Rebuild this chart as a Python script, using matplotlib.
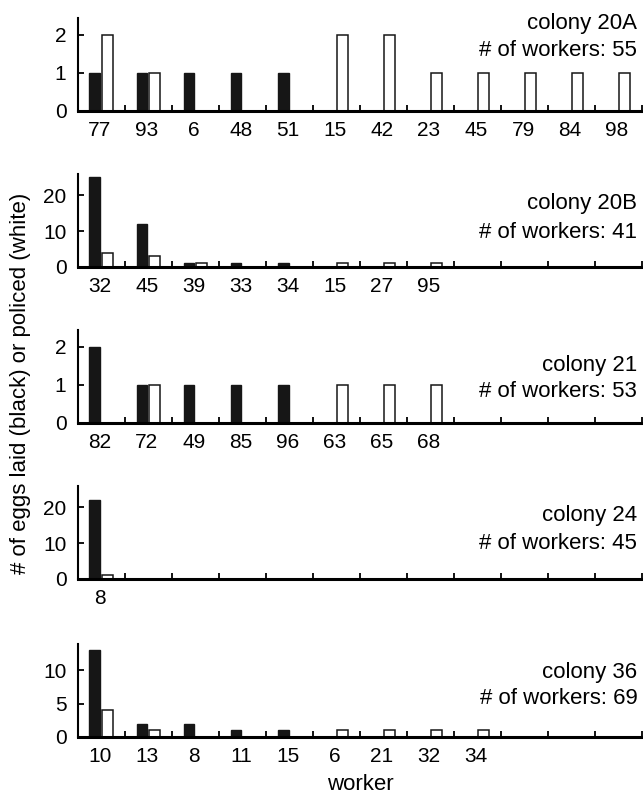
import matplotlib
matplotlib.use('Agg')
import matplotlib.pyplot as plt
import numpy as np

matplotlib.rcParams.update({'font.family': 'sans-serif',
                            'font.sans-serif': ['Liberation Sans', 'DejaVu Sans'],
                            'font.size': 15})

# per colony: worker ids, eggs laid (black), eggs policed (white)
colonies = ['20A', '20B', '21', '24', '36']
n_workers = [55, 41, 53, 45, 69]

workers_20A = ['77', '93', '6', '48', '51', '15', '42', '23', '45', '79', '84', '98']
laid_20A = [1, 1, 1, 1, 1, 0, 0, 0, 0, 0, 0, 0]
policed_20A = [2, 1, 0, 0, 0, 2, 2, 1, 1, 1, 1, 1]

workers_20B = ['32', '45', '39', '33', '34', '15', '27', '95']
laid_20B = [25, 12, 1, 1, 1, 0, 0, 0]
policed_20B = [4, 3, 1, 0, 0, 1, 1, 1]

workers_21 = ['82', '72', '49', '85', '96', '63', '65', '68']
laid_21 = [2, 1, 1, 1, 1, 0, 0, 0]
policed_21 = [0, 1, 0, 0, 0, 1, 1, 1]

workers_24 = ['8']
laid_24 = [22]
policed_24 = [1]

workers_36 = ['10', '13', '8', '11', '15', '6', '21', '32', '34']
laid_36 = [13, 2, 2, 1, 1, 0, 0, 0, 0]
policed_36 = [4, 1, 0, 0, 0, 1, 1, 1, 1]

panels = [
    (workers_20A, laid_20A, policed_20A, [0, 1, 2], 2.45, (0.94, 0.65)),
    (workers_20B, laid_20B, policed_20B, [0, 10, 20], 26, (0.68, 0.37)),
    (workers_21, laid_21, policed_21, [0, 1, 2], 2.45, (0.62, 0.34)),
    (workers_24, laid_24, policed_24, [0, 10, 20], 26, (0.68, 0.38)),
    (workers_36, laid_36, policed_36, [0, 5, 10], 14, (0.69, 0.41)),
]

W, H = 643, 798
fig = plt.figure(figsize=(W / 100, H / 100), dpi=100)

baselines = [111, 267, 423, 579, 737]
ax_h = 93.5
left = 77.5
n_slots = 12
bw = 0.23

for k, (workers, laid, policed, yt, ytop, tpos) in enumerate(panels):
    ax = fig.add_axes([left / W, (H - baselines[k]) / H, (W - left) / W, ax_h / H])
    x = np.arange(len(workers))
    ax.bar(x + 0.37, laid, bw, color='#161616', edgecolor='#161616', linewidth=1.0)
    ax.bar(x + 0.63, policed, bw, color='white', edgecolor='#161616', linewidth=1.1)
    ax.set_xlim(0, n_slots + 0.02)
    ax.set_ylim(0, ytop)
    ax.set_yticks(yt)
    ax.set_xticks(np.arange(1, n_slots + 1))
    ax.set_xticklabels([])
    ax.set_xticks(x + 0.47, minor=True)
    ax.set_xticklabels(workers, minor=True)
    ax.tick_params(axis='x', which='major', direction='in', length=4, width=1.3)
    ax.tick_params(axis='x', which='minor', length=0, pad=7, labelsize=15)
    ax.tick_params(axis='y', direction='in', length=4, width=1.3, pad=8, labelsize=15)
    for s in ['top', 'right']:
        ax.spines[s].set_visible(False)
    ax.spines['bottom'].set_linewidth(2.2)
    ax.spines['left'].set_linewidth(1.5)
    ax.text(0.99, tpos[0], 'colony ' + colonies[k], transform=ax.transAxes,
            ha='right', va='center', fontsize=16)
    ax.text(0.99, tpos[1], '# of workers: %d' % n_workers[k], transform=ax.transAxes,
            ha='right', va='center', fontsize=16)

fig.text(21 / W, 1 - 383 / H, '# of eggs laid (black) or policed (white)', rotation=90,
         ha='center', va='center', fontsize=16)
fig.text((left + (W - left) / 2) / W, 1 - 785 / H, 'worker', ha='center', va='center', fontsize=16)

fig.savefig('out.png', dpi=100)
